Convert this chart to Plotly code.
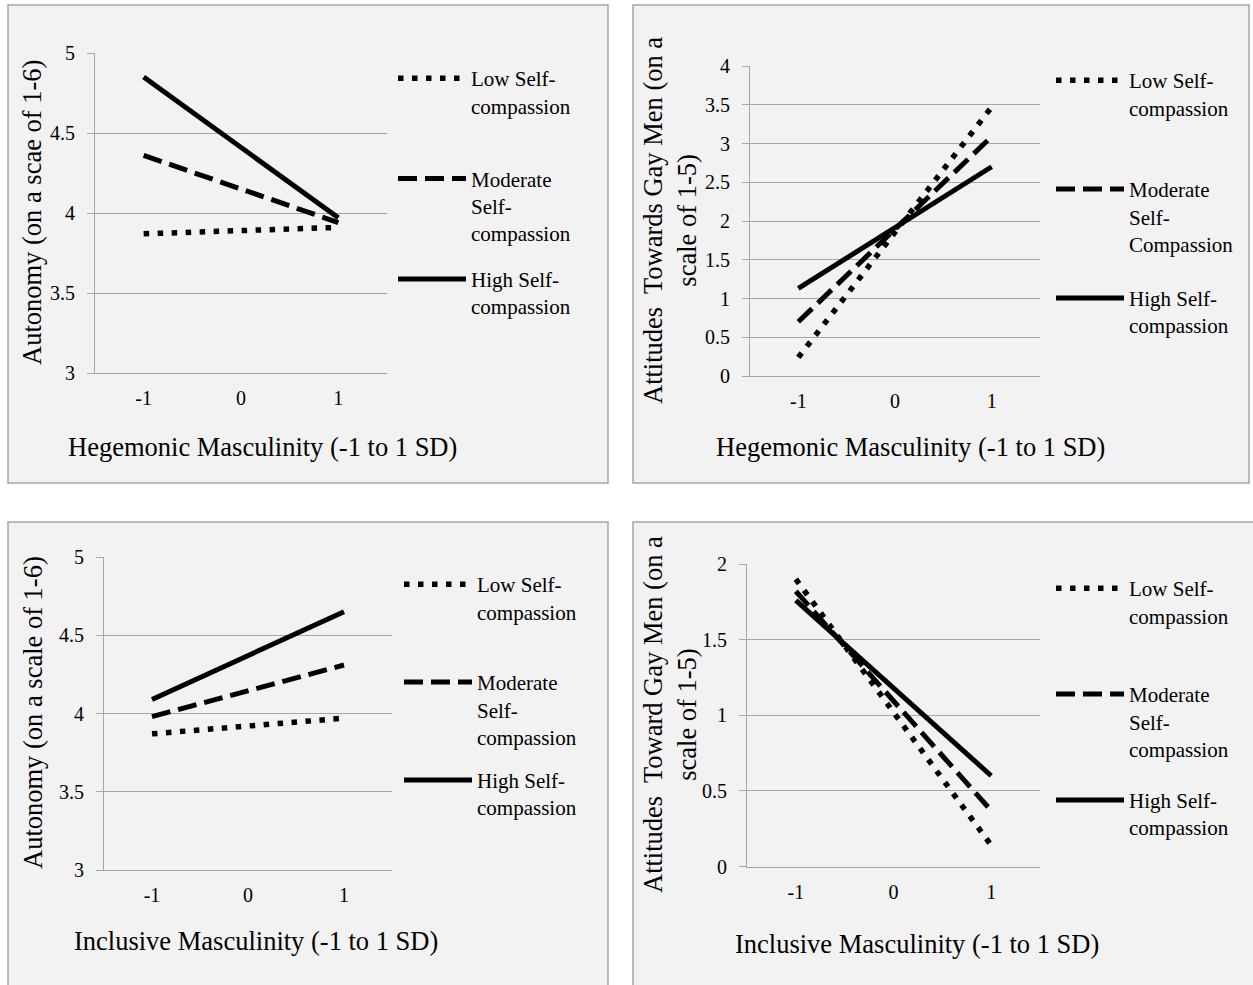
import plotly.graph_objects as go

# ---------------- data ----------------
x_levels = [-1, 1]
x_ticks = [-1, 0, 1]
x_tick_text = ["-1", "0", "1"]
series_names = ["Low", "Moderate", "High"]

# Panel 1: Autonomy vs Hegemonic Masculinity
p1_low = [3.87, 3.91]
p1_mod = [4.36, 3.94]
p1_high = [4.85, 3.97]

# Panel 2: Attitudes Towards Gay Men vs Hegemonic Masculinity
p2_low = [0.24, 3.47]
p2_mod = [0.70, 3.09]
p2_high = [1.13, 2.70]

# Panel 3: Autonomy vs Inclusive Masculinity
p3_low = [3.87, 3.97]
p3_mod = [3.98, 4.31]
p3_high = [4.09, 4.65]

# Panel 4: Attitudes Toward Gay Men vs Inclusive Masculinity
p4_low = [1.90, 0.14]
p4_mod = [1.82, 0.37]
p4_high = [1.76, 0.60]

BL = "<br>\u00a0"  # blank line so every legend entry has the same height
legend_std = ["Low Self-<br>compassion" + BL, "Moderate<br>Self-<br>compassion", "High Self-<br>compassion" + BL]
legend_p2 = ["Low Self-<br>compassion" + BL, "Moderate<br>Self-<br>Compassion", "High Self-<br>compassion" + BL]

xtitle_heg = "Hegemonic Masculinity (-1 to 1 SD)"
xtitle_inc = "Inclusive Masculinity (-1 to 1 SD)"
ytitle_p1 = "Autonomy (on a scae of 1-6)"
ytitle_p2 = "Attitudes  Towards Gay Men (on a<br>scale of 1-5)"
ytitle_p3 = "Autonomy (on a scale of 1-6)"
ytitle_p4 = "Attitudes  Toward Gay Men (on a<br>scale of 1-5)"

# ---------------- layout helpers ----------------
W, H = 1253, 985
FONT = "Liberation Serif"
GRID = "#a6a6a6"

def px(v):
    return v / W

def py(v):
    return 1 - v / H

line_styles = {
    "Low": dict(width=5.5, dash="5.5px,8.5px"),
    "Moderate": dict(width=5, dash="19px,8px"),
    "High": dict(width=5, dash="solid"),
}

panels = [
    dict(vals=[p1_low, p1_mod, p1_high], labels=legend_std, xpx=(95, 387), ypx=(53, 373),
         yrange=[3, 5], legend="legend", leg=(393, 58), gap=15.5),
    dict(vals=[p2_low, p2_mod, p2_high], labels=legend_p2, xpx=(750, 1040), ypx=(66, 376),
         yrange=[0, 4], legend="legend2", leg=(1051, 60), gap=24),
    dict(vals=[p3_low, p3_mod, p3_high], labels=legend_std, xpx=(104, 392), ypx=(557, 870),
         yrange=[3, 5], legend="legend3", leg=(399, 564), gap=13),
    dict(vals=[p4_low, p4_mod, p4_high], labels=legend_std, xpx=(747, 1040), ypx=(564, 866.5),
         yrange=[0, 2], legend="legend4", leg=(1051, 568), gap=21),
]

fig = go.Figure()
layout = dict(
    width=W, height=H, margin=dict(l=0, r=0, t=0, b=0, pad=0, autoexpand=False),
    paper_bgcolor="white", plot_bgcolor="white",
    font=dict(family=FONT, size=20, color="black"),
    showlegend=True,
)

for i, p in enumerate(panels):
    n = "" if i == 0 else str(i + 1)
    xa, ya = "x" + n, "y" + n
    for name, vals, lab in zip(series_names, p["vals"], p["labels"]):
        fig.add_trace(go.Scatter(
            x=x_levels, y=vals, mode="lines", name=lab,
            line=dict(color="black", **line_styles[name]),
            xaxis=xa, yaxis=ya, legend=p["legend"], legendgroup=f"{i}{name}",
            hoverinfo="skip",
        ))
    layout["xaxis" + n] = dict(
        domain=[px(p["xpx"][0]), px(p["xpx"][1])], anchor=ya,
        range=[-1.5, 1.5], tickmode="array", tickvals=x_ticks, ticktext=x_tick_text,
        showgrid=False, zeroline=False, showline=True, linecolor=GRID, linewidth=1,
        ticks="", ticklabelstandoff=7, tickfont=dict(size=20, family=FONT),
    )
    layout["yaxis" + n] = dict(
        domain=[py(p["ypx"][1]), py(p["ypx"][0])], anchor=xa,
        range=p["yrange"], dtick=0.5, tick0=0,
        showgrid=True, gridcolor=GRID, gridwidth=1, zeroline=False,
        showline=True, linecolor=GRID, linewidth=1,
        ticks="outside", ticklen=7, tickcolor=GRID, ticklabelstandoff=8,
        tickfont=dict(size=20, family=FONT),
    )
    layout[p["legend"]] = dict(
        x=px(p["leg"][0]), y=py(p["leg"][1]), xanchor="left", yanchor="top",
        bgcolor="rgba(0,0,0,0)", borderwidth=0, font=dict(size=21, family=FONT),
        itemwidth=68, tracegroupgap=p["gap"], valign="top", traceorder="grouped",
    )

# panel backgrounds
shapes = []
for (x0, y0, x1, y1) in [(8, 5, 608, 483), (633, 5, 1249, 483), (8, 522, 608, 995), (633, 522, 1263, 995)]:
    shapes.append(dict(type="rect", xref="paper", yref="paper", layer="below",
                       x0=px(x0), x1=px(x1), y0=py(y0), y1=py(y1),
                       fillcolor="#f2f2f2", line=dict(color="#a6a6a6", width=1.5)))
layout["shapes"] = shapes

# axis titles
ann = []
def title(text, xc, yc, angle=0):
    ann.append(dict(text=text, x=px(xc), y=py(yc), xref="paper", yref="paper",
                    xanchor="center", yanchor="middle", showarrow=False,
                    textangle=angle, font=dict(size=26.5, family=FONT), align="center"))

title(xtitle_heg, 262, 447)
title(xtitle_heg, 910, 447)
title(xtitle_inc, 256, 941)
title(xtitle_inc, 917, 944)
title(ytitle_p1, 32, 213, -90)
title(ytitle_p2, 670, 221, -90)
title(ytitle_p3, 33, 713, -90)
title(ytitle_p4, 670, 715, -90)
layout["annotations"] = ann

fig.update_layout(**layout)
fig.write_html("out.html", config={"displayModeBar": False},
               post_script="document.body.style.margin='0';")
